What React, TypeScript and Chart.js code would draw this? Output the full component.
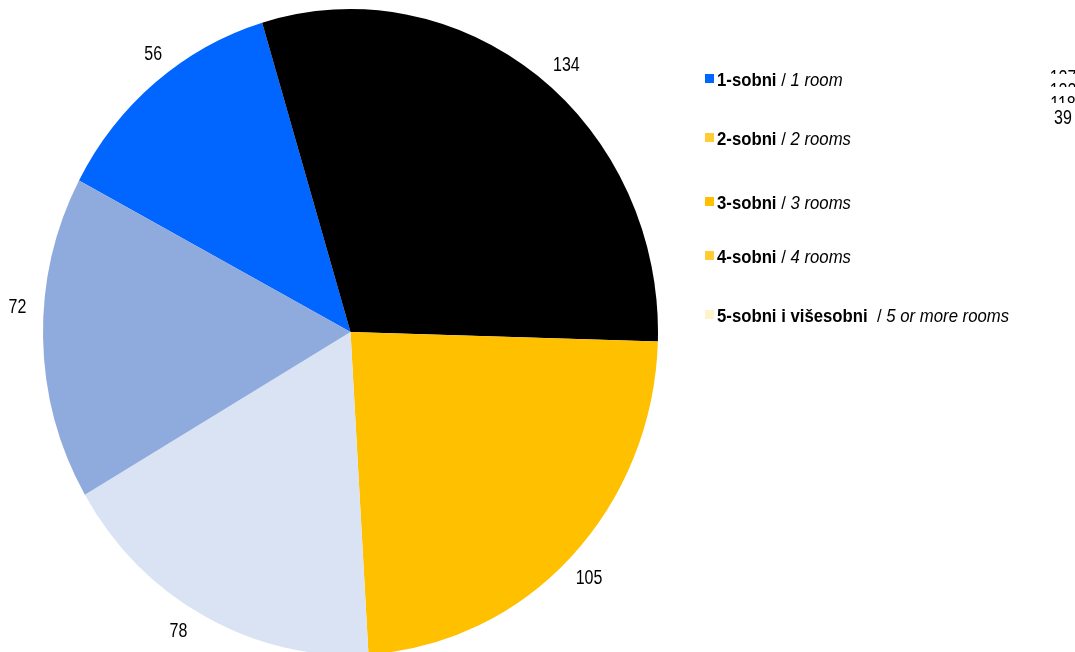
import React, { useEffect, useRef } from 'react';
import { Chart, registerables } from 'chart.js';

Chart.register(...registerables);

// ---- data ----
const categories = ['1-sobni', '2-sobni', '3-sobni', '4-sobni', '5-sobni i višesobni'];
const categoriesEn = ['1 room', '2 rooms', '3 rooms', '4 rooms', '5 or more rooms'];
const values = [56, 134, 105, 78, 72];
const sliceColors = ['#0066FF', '#000000', '#FFC000', '#DAE3F3', '#8FAADC'];
const legendColors = ['#0066FF', '#FFCC33', '#FFC000', '#FFCC33', '#FFF2CC'];
const sideLabels = ['127', '122', '118', '39'];

// ---- layout / style ----
const W = 1075;
const H = 652;
const Y_STRETCH = 1.05;
const ROTATION = -62;
const LABEL_GAP = 25;
const labelShift = [15, 17, 2, 17, 30]; // tangential (clockwise) label shift, px
const labelGapExtra = [-3, 0, 2, 0, 0];
const FONT_FAMILY = '"Liberation Sans", Arial, sans-serif';
const LABEL_SIZE = 20;
const LABEL_SX = 0.8;
const LEGEND_SX = 0.93;
const legendBaselines = [86, 145, 209.5, 263, 322];
const sideCapTops = [70, 83, 96, 110];
const sideBoxTops = [66, 74, 87, 103];
const SIDE_X = 1063;

function drawNarrowText(ctx: CanvasRenderingContext2D, text: string, x: number, y: number, baseline: CanvasTextBaseline) {
  ctx.save();
  ctx.translate(x, y);
  ctx.scale(LABEL_SX, 1);
  ctx.font = `${LABEL_SIZE}px ${FONT_FAMILY}`;
  ctx.fillStyle = '#000';
  ctx.textAlign = 'center';
  ctx.textBaseline = baseline;
  ctx.fillText(text, 0, 0);
  ctx.restore();
}

const ellipsePlugin = {
  id: 'ellipsePie',
  beforeDatasetsDraw(chart: any) {
    const { ctx, chartArea: a } = chart;
    const cx = (a.left + a.right) / 2;
    const cy = (a.top + a.bottom) / 2;
    ctx.save();
    ctx.translate(cx, cy);
    ctx.scale(1, Y_STRETCH);
    ctx.translate(-cx, -cy);
  },
  afterDatasetsDraw(chart: any) {
    const ctx: CanvasRenderingContext2D = chart.ctx;
    ctx.restore();
    const meta = chart.getDatasetMeta(0);
    meta.data.forEach((arc: any, i: number) => {
      const p = arc.getProps(['x', 'y', 'startAngle', 'endAngle', 'outerRadius'], true);
      const mid = (p.startAngle + p.endAngle) / 2;
      const r = p.outerRadius + LABEL_GAP + (labelGapExtra[i] || 0);
      const t = labelShift[i] || 0;
      // radial + tangential (clockwise) in circle space, then stretch vertically
      const ox = Math.cos(mid) * r - Math.sin(mid) * t;
      const oy = Math.sin(mid) * r + Math.cos(mid) * t;
      drawNarrowText(ctx, String(values[i]), p.x + ox, p.y + oy * Y_STRETCH, 'middle');
    });
    // overlapping side labels, each with a white box
    const cap = LABEL_SIZE * 0.716;
    sideLabels.forEach((txt, i) => {
      const top = sideCapTops[i];
      const boxTop = sideBoxTops[i];
      ctx.fillStyle = '#fff';
      ctx.fillRect(SIDE_X - 16, boxTop, 32, top + cap + 5 - boxTop);
      drawNarrowText(ctx, txt, SIDE_X, top + cap, 'alphabetic');
    });
  },
};

function Legend() {
  return (
    <>
      {categories.map((c, i) => {
        const b = legendBaselines[i];
        return (
          <React.Fragment key={c}>
            <div
              style={{
                position: 'absolute',
                left: 705,
                top: b - 12.5,
                width: 9,
                height: 9,
                background: legendColors[i],
              }}
            />
            <div
              style={{
                position: 'absolute',
                left: 717,
                top: b - 15.2,
                fontFamily: FONT_FAMILY,
                fontSize: 18,
                lineHeight: '18px',
                whiteSpace: 'pre',
                transform: `scaleX(${LEGEND_SX})`,
                transformOrigin: '0 0',
                color: '#000',
              }}
            >
              <span style={{ fontWeight: 700 }}>{c}</span>
              <span>{i === 4 ? '  / ' : ' / '}</span>
              <span style={{ fontStyle: 'italic' }}>{categoriesEn[i]}</span>
            </div>
          </React.Fragment>
        );
      })}
    </>
  );
}

export default function App() {
  const ref = useRef<HTMLCanvasElement | null>(null);
  useEffect(() => {
    if (!ref.current) return;
    const chart = new Chart(ref.current, {
      type: 'pie',
      data: {
        labels: categories,
        datasets: [
          {
            data: values,
            backgroundColor: sliceColors,
            borderWidth: 0,
            clip: false,
          } as any,
        ],
      },
      options: {
        responsive: false,
        animation: false,
        devicePixelRatio: 1,
        rotation: ROTATION,
        layout: { padding: { left: 43, right: 417, top: 24.5, bottom: 12.5 } },
        plugins: { legend: { display: false }, tooltip: { enabled: false } },
      } as any,
      plugins: [ellipsePlugin],
    });
    return () => chart.destroy();
  }, []);
  return (
    <div style={{ position: 'absolute', left: 0, top: 0, width: W, height: H, overflow: 'hidden', background: '#fff' }}>
      <canvas ref={ref} width={W} height={H} style={{ display: 'block', width: W, height: H }} />
      <Legend />
    </div>
  );
}
